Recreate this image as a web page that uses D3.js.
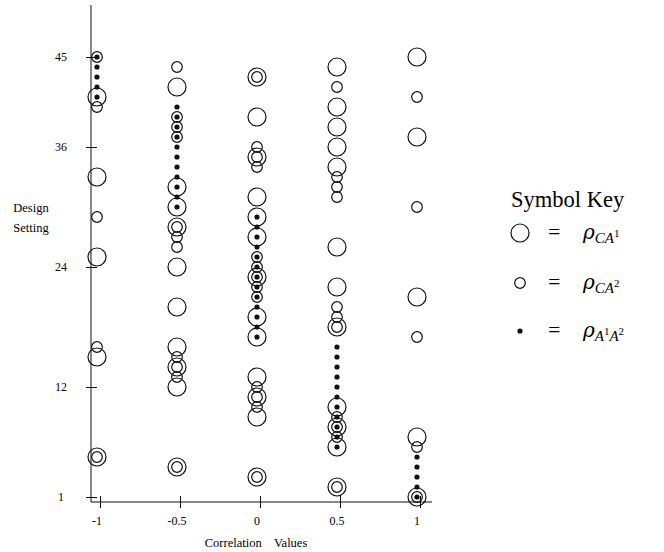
<!DOCTYPE html>
<html>
<head>
<meta charset="utf-8">
<script src="https://cdn.jsdelivr.net/npm/d3@7"></script>
<style>
  body { margin: 0; background: #fff; }
  svg { display: block; font-family: "Liberation Serif", "DejaVu Serif", serif; }
</style>
</head>
<body>
<svg id="chart" width="664" height="552"></svg>
<script>
// design settings 1..45 and the correlation value of each symbol per setting
const settings = [1,2,3,4,5,6,7,8,9,10,11,12,13,14,15,16,17,18,19,20,21,22,23,24,25,
                  26,27,28,29,30,31,32,33,34,35,36,37,38,39,40,41,42,43,44,45];
const rhoCA1 = [1,0.5,0,-0.5,-1,0.5,1,0.5,0,0.5,0,-0.5,0,-0.5,-1,-0.5,0,0.5,0,-0.5,1,0.5,0,-0.5,-1,
                0.5,0,-0.5,0,-0.5,0,-0.5,-1,0.5,0,0.5,1,0.5,0,0.5,-1,-0.5,0,0.5,1];
const rhoCA2 = [1,0.5,0,-0.5,-1,1,0.5,0.5,0.5,0,0,0,-0.5,-0.5,-0.5,-1,1,0.5,0.5,0.5,0,0,0,0,0,
                -0.5,-0.5,-0.5,-1,1,0.5,0.5,0.5,0,0,0,-0.5,-0.5,-0.5,-1,1,0.5,0,-0.5,-1];
const rhoA1A2 = [1,1,1,1,1,0.5,0.5,0.5,0.5,0.5,0.5,0.5,0.5,0.5,0.5,0.5,0,0,0,0,0,0,0,0,0,
                 0,0,0,0,-0.5,-0.5,-0.5,-0.5,-0.5,-0.5,-0.5,-0.5,-0.5,-0.5,-0.5,-1,-1,-1,-1,-1];

const xTicks = [-1, -0.5, 0, 0.5, 1];
const yTicks = [1, 12, 24, 36, 45];

const svg = d3.select('#chart');
const ink = '#111';

const x = d3.scaleLinear().domain([-1, 1]).range([97, 417]);
const y = d3.scaleLinear().domain([1, 45]).range([497, 57]);
const tickShift = 3.5; // tick marks sit a little right of labels and symbols

const axisX0 = 91, axisY0 = 502;

// axes lines
svg.append('line').attr('x1', axisX0).attr('x2', axisX0).attr('y1', 5).attr('y2', axisY0)
    .attr('stroke', ink).attr('stroke-width', 1);
svg.append('line').attr('x1', axisX0).attr('x2', 432).attr('y1', axisY0).attr('y2', axisY0)
    .attr('stroke', ink).attr('stroke-width', 1);

// x ticks
xTicks.forEach(t => {
    svg.append('line')
        .attr('x1', x(t) + tickShift).attr('x2', x(t) + tickShift)
        .attr('y1', axisY0 - 6).attr('y2', axisY0 + 6)
        .attr('stroke', ink);
    svg.append('text')
        .attr('x', x(t)).attr('y', 525)
        .attr('text-anchor', 'middle')
        .style('font-size', '12px')
        .text(t);
});

// y ticks
yTicks.forEach(t => {
    svg.append('line')
        .attr('x1', axisX0 - 5).attr('x2', axisX0 + 6)
        .attr('y1', y(t) + 0.5).attr('y2', y(t) + 0.5)
        .attr('stroke', ink);
    svg.append('text')
        .attr('x', 61).attr('y', y(t) + 4)
        .attr('text-anchor', 'middle')
        .style('font-size', '12px')
        .text(t);
});

// axis titles
svg.append('text').attr('x', 31).attr('y', 212).attr('text-anchor', 'middle')
    .style('font-size', '12.5px').text('Design');
svg.append('text').attr('x', 31).attr('y', 232).attr('text-anchor', 'middle')
    .style('font-size', '12.5px').text('Setting');
svg.append('text').attr('x', 256).attr('y', 547).attr('text-anchor', 'middle')
    .style('font-size', '12.5px').style('white-space', 'pre')
    .text('Correlation    Values');

// marks
const bigR = 9, smallR = 5.3, dotR = 2.6;

svg.append('g').selectAll('circle')
    .data(settings)
    .join('circle')
    .attr('cx', (d, i) => x(rhoCA1[i]))
    .attr('cy', d => y(d))
    .attr('r', bigR)
    .attr('fill', 'none').attr('stroke', ink).attr('stroke-width', 1.2);

svg.append('g').selectAll('circle')
    .data(settings)
    .join('circle')
    .attr('cx', (d, i) => x(rhoCA2[i]))
    .attr('cy', d => y(d))
    .attr('r', smallR)
    .attr('fill', 'none').attr('stroke', ink).attr('stroke-width', 1.2);

svg.append('g').selectAll('circle')
    .data(settings)
    .join('circle')
    .attr('cx', (d, i) => x(rhoA1A2[i]))
    .attr('cy', d => y(d))
    .attr('r', dotR)
    .attr('fill', ink);

// legend
const legend = svg.append('g');
legend.append('text').attr('x', 511).attr('y', 207)
    .style('font-size', '22.5px').text('Symbol Key');

const keyRows = [
    { r: bigR, fill: 'none', sub: 'CA', sup: '1', y: 233 },
    { r: smallR, fill: 'none', sub: 'CA', sup: '2', y: 283 },
    { r: dotR, fill: ink, sub: 'A', sup: '1', sub2: 'A', sup2: '2', y: 331 }
];

keyRows.forEach(k => {
    legend.append('circle')
        .attr('cx', 520).attr('cy', k.y).attr('r', k.r)
        .attr('fill', k.fill).attr('stroke', k.fill === 'none' ? ink : 'none')
        .attr('stroke-width', 1.2);
    const t = legend.append('text').attr('x', 548).attr('y', k.y + 6)
        .style('font-size', '22px');
    t.append('tspan').text('=');
    t.append('tspan').attr('x', 583).style('font-style', 'italic')
        .style('font-family', '"DejaVu Serif", serif').style('font-size', '20px').text('ρ');
    t.append('tspan').attr('dy', 4).style('font-size', '15px').style('font-style', 'italic').text(k.sub);
    t.append('tspan').attr('dy', -6).style('font-size', '11px').text(k.sup);
    if (k.sub2) {
        t.append('tspan').attr('dy', 6).style('font-size', '15px').style('font-style', 'italic').text(k.sub2);
        t.append('tspan').attr('dy', -6).style('font-size', '11px').text(k.sup2);
    }
});
</script>
</body>
</html>
